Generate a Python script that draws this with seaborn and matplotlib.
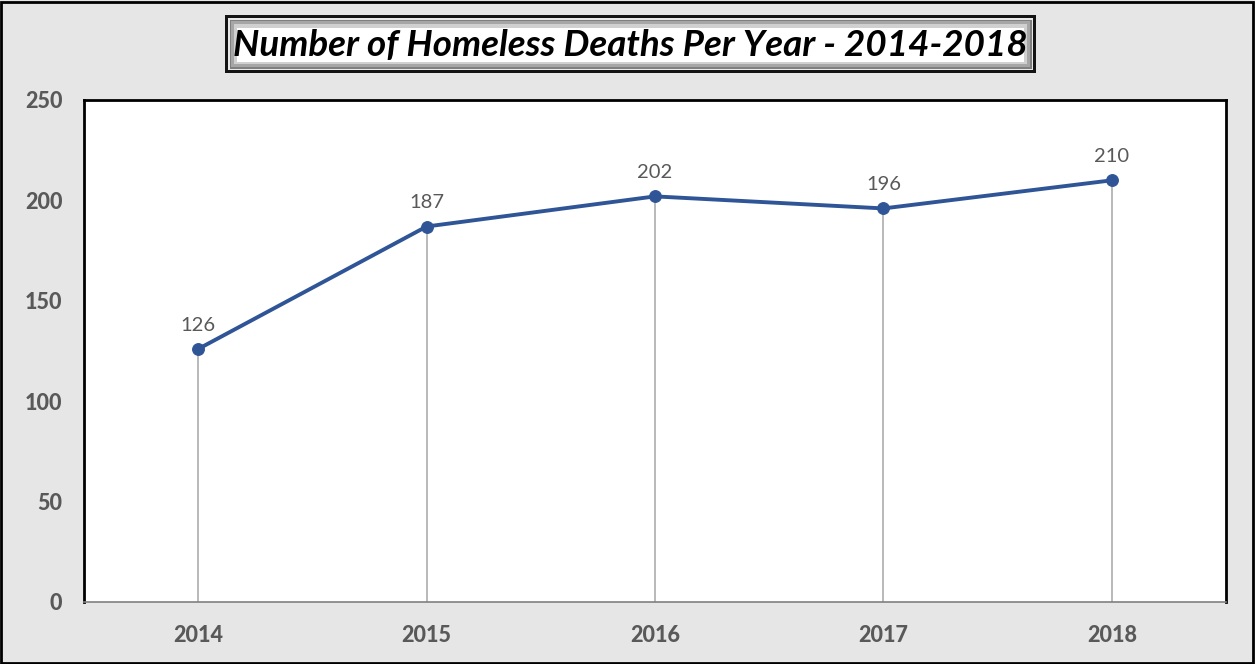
import matplotlib
matplotlib.use("Agg")
import matplotlib.pyplot as plt
import seaborn as sns
import pandas as pd
from matplotlib.patches import Rectangle

years = ["2014", "2015", "2016", "2017", "2018"]
deaths = [126, 187, 202, 196, 210]
yticks = [0, 50, 100, 150, 200, 250]
title = "Number of Homeless Deaths Per Year - 2014-2018"

sns.set_theme(style="white")
plt.rcParams['font.family'] = ['Lato', 'DejaVu Sans']

W, H = 1255, 664
fig = plt.figure(figsize=(W / 100, H / 100), dpi=100)
fig.patch.set_facecolor("#e6e6e6")

# outer border
fig.add_artist(Rectangle((1 / W, 1 / H), 1 - 3 / W, 1 - 3 / H, transform=fig.transFigure,
                         fill=False, edgecolor="black", linewidth=2))

left, right, top, bottom = 84, 1226, 100, 602
ax = fig.add_axes([left / W, 1 - bottom / H, (right - left) / W, (bottom - top) / H])
ax.set_facecolor("white")

df = pd.DataFrame({"year": years, "deaths": deaths})
df["pos"] = range(len(years))

ax.vlines(df["pos"], 0, df["deaths"], color="#a6a6a6", linewidth=1.1, zorder=1)
sns.lineplot(data=df, x="pos", y="deaths", ax=ax, color="#2f5597", linewidth=2.8,
             marker="o", markersize=8.5, markeredgecolor="#2f5597", zorder=3)

for xp, v in zip(df["pos"], df["deaths"]):
    ax.annotate(str(v), (xp, v), xytext=(0, 11), textcoords="offset points",
                ha="center", va="bottom", fontsize=14.5, color="#595959")

ax.set_xlim(-0.5, len(years) - 0.5)
ax.set_ylim(0, 250)
ax.set_yticks(yticks)
ax.set_yticklabels([str(t) for t in yticks])
ax.set_xticks(list(df["pos"]))
ax.set_xticklabels(years)
ax.set_xlabel("")
ax.set_ylabel("")
ax.tick_params(axis="both", length=0, labelsize=15.5, labelcolor="#595959")
ax.tick_params(axis="y", pad=15.5)
ax.tick_params(axis="x", pad=16.5)
for lab in ax.get_xticklabels() + ax.get_yticklabels():
    lab.set_fontweight(900)

for s in ["left", "top", "right"]:
    ax.spines[s].set_color("black")
    ax.spines[s].set_linewidth(2)
ax.spines["bottom"].set_color("#808080")
ax.spines["bottom"].set_linewidth(1.2)

# title box with bevel look
tx0, ty0, tx1, ty1 = 225, 15, 1036, 73
def frect(x0, y0, x1, y1, **kw):
    fig.add_artist(Rectangle((x0 / W, 1 - y1 / H), (x1 - x0) / W, (y1 - y0) / H,
                             transform=fig.transFigure, **kw))
frect(tx0, ty0, tx1, ty1, facecolor="#141414", edgecolor="none")
frect(tx0 + 3, ty0 + 3, tx1 - 3, ty1 - 3, facecolor="#e8e8e8", edgecolor="none")
frect(tx0 + 5, ty0 + 5, tx1 - 4, ty1 - 4, facecolor="#7f7f7f", edgecolor="none")
frect(tx0 + 6, ty0 + 6, tx1 - 6, ty1 - 6, facecolor="#a6a6a6", edgecolor="none")
frect(tx0 + 9, ty0 + 9, tx1 - 9, ty1 - 9, facecolor="#d0d0d0", edgecolor="none")
frect(tx0 + 12, ty0 + 13, tx1 - 12, ty1 - 11, facecolor="white", edgecolor="none")

fig.text(((tx0 + tx1) / 2) / W, 1 - ((ty0 + ty1) / 2 + 2) / H, title,
         ha="center", va="center", fontsize=26.5, fontweight="bold", fontstyle="italic",
         color="black")

fig.savefig("out.png", dpi=100, facecolor=fig.get_facecolor())
